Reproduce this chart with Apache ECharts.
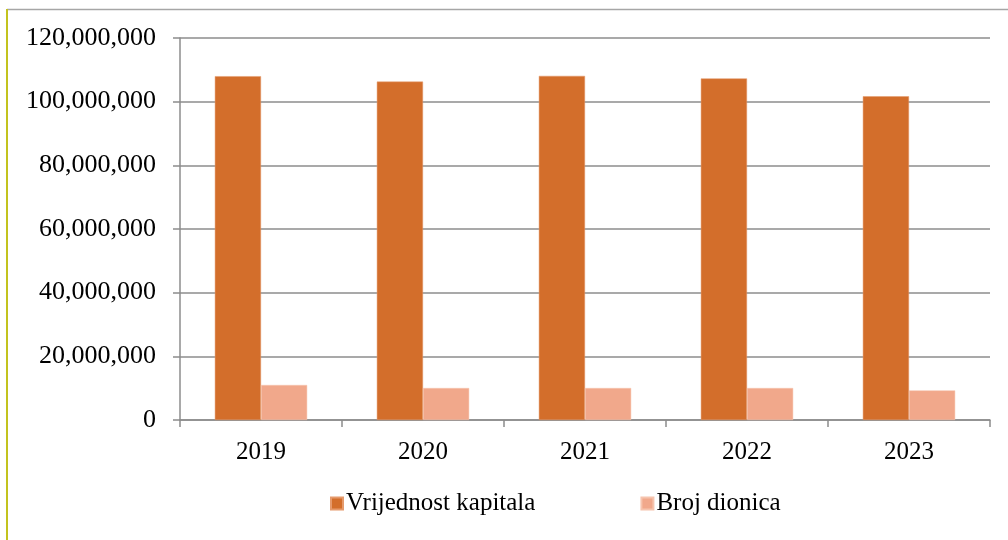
<!DOCTYPE html>
<html>
<head>
<meta charset="utf-8">
<script src="https://cdn.jsdelivr.net/npm/echarts@6/dist/echarts.min.js"></script>
<style>html,body{margin:0;padding:0;background:#fff;}#c{width:1008px;height:540px;}</style>
</head>
<body>
<div id="c"></div>
<script>
const categories = ['2019', '2020', '2021', '2022', '2023'];
const vrijednostKapitala = [108000000, 106300000, 108100000, 107300000, 101700000];
const brojDionica = [11000000, 10050000, 10050000, 10050000, 9300000];
const seriesNames = ['Vrijednost kapitala', 'Broj dionica'];

const chart = echarts.init(document.getElementById('c'), null, {renderer: 'canvas'});
const font = '"Liberation Serif", "Times New Roman", serif';
const fmt = v => v.toString().replace(/\B(?=(\d{3})+(?!\d))/g, ',');
chart.setOption({
  animation: false,
  backgroundColor: '#fff',
  textStyle: {fontFamily: font},
  graphic: [
    {type: 'line', shape: {x1: 7, y1: 9.5, x2: 1008, y2: 9.5}, style: {stroke: '#a6a6a6', lineWidth: 1.5}},
    {type: 'line', shape: {x1: 7, y1: 9, x2: 7, y2: 540}, style: {stroke: '#c3c31e', lineWidth: 2}}
  ],
  grid: {left: 180, right: 18, top: 38, bottom: 120, containLabel: false},
  legend: {
    left: 325, top: 486,
    icon: 'rect', itemWidth: 12, itemHeight: 12, itemGap: 105,
    textStyle: {fontFamily: font, fontSize: 25, color: '#000', padding: [0, 0, 0, -2]},
    data: seriesNames
  },
  xAxis: {
    type: 'category', data: categories,
    axisLine: {lineStyle: {color: '#8c8c8c', width: 1.5}},
    axisTick: {show: true, length: 7, lineStyle: {color: '#8c8c8c', width: 1.5}},
    axisLabel: {fontFamily: font, fontSize: 25, color: '#000', margin: 20}
  },
  yAxis: {
    type: 'value', min: 0, max: 120000000, interval: 20000000,
    axisLine: {show: true, lineStyle: {color: '#8c8c8c', width: 1.5}},
    axisTick: {show: true, length: 7, lineStyle: {color: '#8c8c8c', width: 1.5}},
    splitLine: {lineStyle: {color: '#8c8c8c', width: 1.5}},
    axisLabel: {fontFamily: font, fontSize: 26, color: '#000', margin: 24, formatter: fmt}
  },
  series: [
    {name: seriesNames[0], type: 'bar', data: vrijednostKapitala, barGap: '0%', barCategoryGap: '43%',
     itemStyle: {color: '#D36E2B', borderColor: '#E59A6C', borderWidth: 0.5}},
    {name: seriesNames[1], type: 'bar', data: brojDionica,
     itemStyle: {color: '#F1A88B', borderColor: '#F6C4AE', borderWidth: 0.5}}
  ]
});
</script>
</body>
</html>
